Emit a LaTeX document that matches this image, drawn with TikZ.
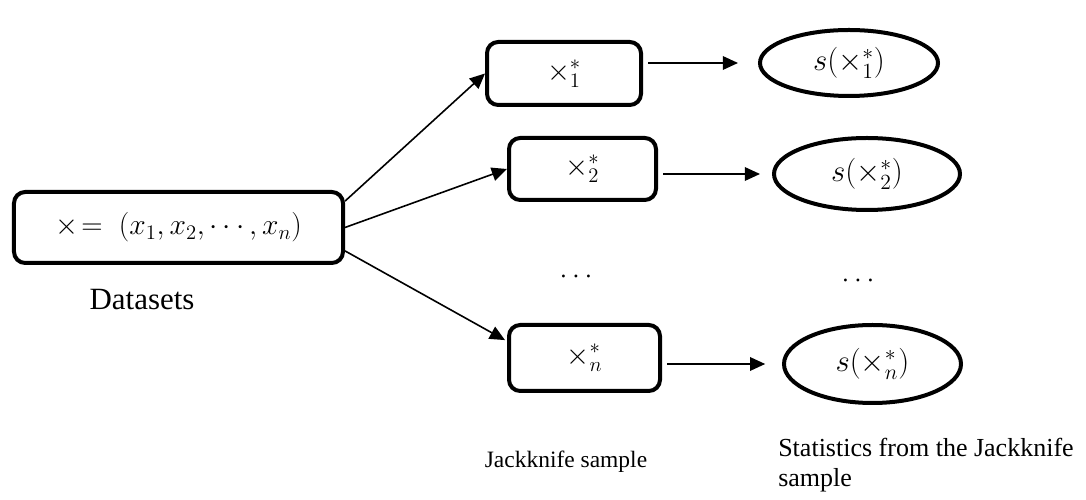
\RequirePackage{fix-cm}
\documentclass[tikz,border=0pt]{standalone}
\usepackage{fontspec}
\setmainfont{Liberation Serif}
\usepackage{tikz}
\usetikzlibrary{positioning,arrows.meta,shapes.geometric,calc}

\begin{document}
\begin{tikzpicture}[
	>=Triangle,
	% Define styles for the shapes
	databox/.style={rectangle, draw, line width=0.1cm, rounded corners=0.28cm, align=center, font=\fontsize{21}{24}\selectfont},
	stat/.style={ellipse, draw, line width=0.1cm, align=center, inner sep=0pt, font=\fontsize{22}{25}\selectfont},
	arrow/.style={->, line width=0.04cm, color=black, >={Triangle[length=0.38cm,width=0.34cm]}}
	]
	\useasboundingbox (0,0) rectangle (27.15,12.5);

	% --- Nodes ---
	\node (data) [databox, minimum width=8.225cm, minimum height=1.775cm] at (4.4625,6.8125) {$\times\!=\;(x_1,x_2,\cdots,x_n)$};

	\node (samp1) [databox, minimum width=3.85cm, minimum height=1.575cm] at (14.1,10.6625) {$\times_1^*$};
	\node (samp2) [databox, minimum width=3.675cm, minimum height=1.55cm] at (14.5625,8.275) {$\times_2^*$};
	\node (samp3) [databox, minimum width=3.775cm, minimum height=1.65cm] at (14.6125,3.55) {$\times_n^*$};

	\node (stat1) [stat, minimum width=4.45cm, minimum height=1.65cm] at (21.225,10.925) {$s(\times_1^*)$};
	\node (stat2) [stat, minimum width=4.65cm, minimum height=1.8cm] at (21.675,8.15) {$s(\times_2^*)$};
	\node (stat3) [stat, minimum width=4.425cm, minimum height=1.95cm] at (21.8125,3.4) {$s(\times_n^*)$};

	\node (dots1) at (14.4,5.575) {\fontsize{20}{22}\selectfont$\cdots$};
	\node (dots2) at (21.45,5.475) {\fontsize{20}{22}\selectfont$\cdots$};

	% Labels
	\node (datalbl) at (3.55,5.0) {\fontsize{22}{26}\selectfont Datasets};
	\node (samplbl) at (14.15,0.95) {\fontsize{16.7}{20}\selectfont Jackknife sample};
	\node (statlbl) [anchor=north west, align=left, inner sep=0pt, font=\fontsize{18.5}{21}\selectfont] at (19.45,1.55) {Statistics from the Jackknife\\sample};

	% --- Arrows ---
	\draw[arrow] (data.9) -- (samp1.west);
	\draw[arrow] (data.east) -- (samp2.west);
	\draw[arrow] (data.-8) -- ($(samp3.167)+(-0.05,0)$);

	\draw[arrow, shorten <=0.125cm, shorten >=0.5cm] (samp1.east |- stat1.west) -- (stat1.west);
	\draw[arrow, shorten <=0.125cm, shorten >=0.3cm] (samp2.east |- stat2.west) -- (stat2.west);
	\draw[arrow, shorten <=0.125cm, shorten >=0.42cm] (samp3.east |- stat3.west) -- (stat3.west);

\end{tikzpicture}
\end{document}
